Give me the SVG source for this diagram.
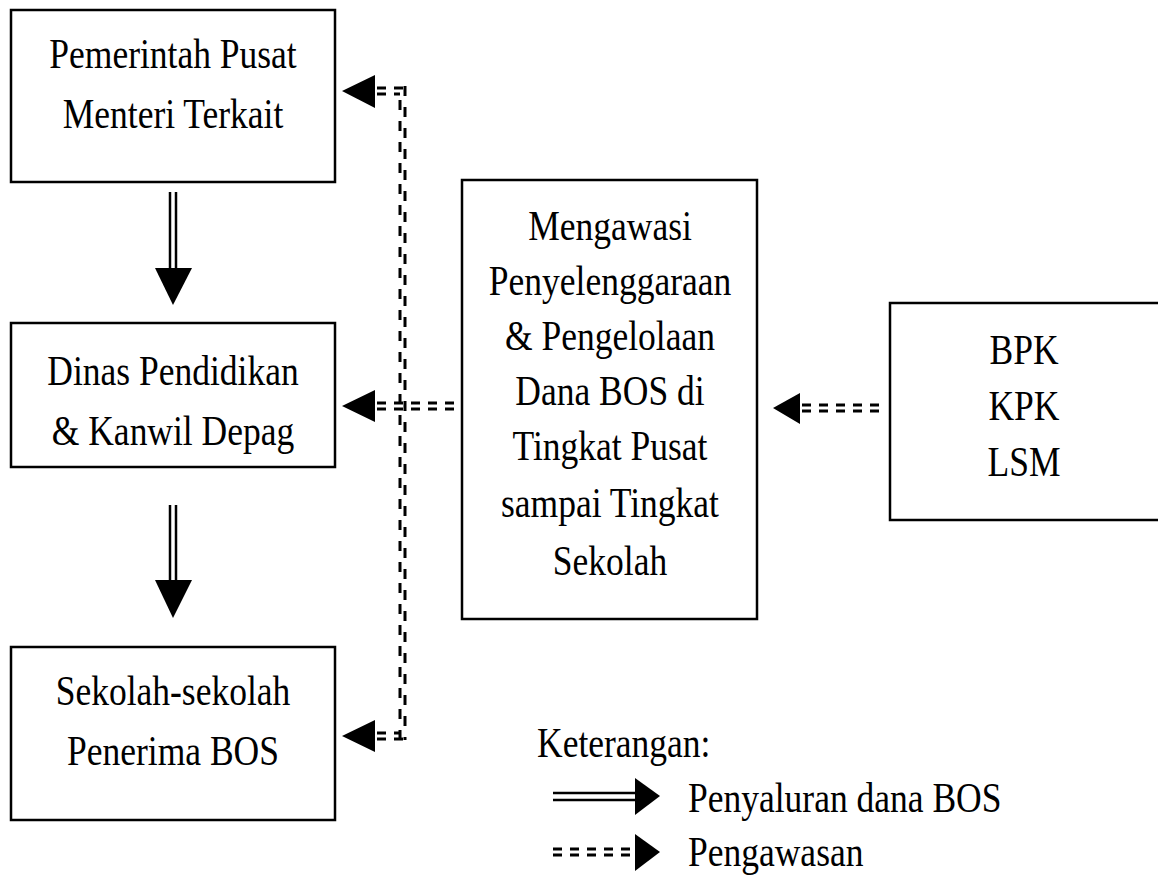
<svg xmlns="http://www.w3.org/2000/svg" width="1158" height="878" viewBox="0 0 1158 878">
<style>
.box{fill:#fff;stroke:#000;stroke-width:2.5}
.t{font-family:"Liberation Serif","Times New Roman",serif;font-size:35.5px;fill:#000}
.c{text-anchor:middle}
.dl{stroke:#000;stroke-width:2.5;fill:none}
.dd{stroke:#000;stroke-width:3;fill:none;stroke-dasharray:9 8}
.dv{stroke:#000;stroke-width:3;fill:none;stroke-dasharray:10 11}
.hd{fill:#000}
</style>
<rect width="1158" height="878" fill="#fff"/>
<g id="n-pusat">
<rect class="box" x="11" y="10" width="324" height="172"/>
<text class="t c" transform="translate(173,68) scale(1,1.16)">Pemerintah Pusat</text>
<text class="t c" transform="translate(173,128) scale(1,1.16)">Menteri Terkait</text>
</g>
<g id="n-dinas">
<rect class="box" x="11" y="323" width="324" height="144"/>
<text class="t c" transform="translate(173,385) scale(1,1.16)">Dinas Pendidikan</text>
<text class="t c" transform="translate(173,445) scale(1,1.16)">&amp; Kanwil Depag</text>
</g>
<g id="n-sekolah">
<rect class="box" x="11" y="647" width="324" height="173"/>
<text class="t c" transform="translate(173,705) scale(1,1.16)">Sekolah-sekolah</text>
<text class="t c" transform="translate(173,765) scale(1,1.16)">Penerima BOS</text>
</g>
<g id="n-mengawasi">
<rect class="box" x="462" y="180" width="295" height="439"/>
<text class="t c" transform="translate(610,240) scale(1,1.16)">Mengawasi</text>
<text class="t c" transform="translate(610,295) scale(1,1.16)">Penyelenggaraan</text>
<text class="t c" transform="translate(610,350) scale(1,1.16)">&amp; Pengelolaan</text>
<text class="t c" transform="translate(610,405) scale(1,1.16)">Dana BOS di</text>
<text class="t c" transform="translate(610,460) scale(1,1.16)">Tingkat Pusat</text>
<text class="t c" transform="translate(610,517) scale(1,1.16)">sampai Tingkat</text>
<text class="t c" transform="translate(610,575) scale(1,1.16)">Sekolah</text>
</g>
<g id="n-bpk">
<rect class="box" x="890" y="303" width="280" height="217"/>
<text class="t c" transform="translate(1024,364) scale(1,1.16)">BPK</text>
<text class="t c" transform="translate(1024,420) scale(1,1.16)">KPK</text>
<text class="t c" transform="translate(1024,476) scale(1,1.16)">LSM</text>
</g>
<g id="connectors">
<line class="dl" x1="170" y1="192" x2="170" y2="272"/>
<line class="dl" x1="176" y1="192" x2="176" y2="272"/>
<polygon class="hd" points="155,268 192,268 173,305"/>
<line class="dl" x1="170" y1="505" x2="170" y2="584"/>
<line class="dl" x1="176" y1="505" x2="176" y2="584"/>
<polygon class="hd" points="155,580 192,580 173,618"/>
<line class="dv" x1="400" y1="100" x2="400" y2="738"/>
<line class="dv" x1="405" y1="86" x2="405" y2="740"/>
<line class="dd" x1="377" y1="88" x2="405" y2="88"/>
<line class="dd" x1="377" y1="94" x2="400" y2="94"/>
<polygon class="hd" points="342,91 375,75 375,108"/>
<line class="dd" x1="377" y1="403" x2="455" y2="403"/>
<line class="dd" x1="377" y1="409" x2="455" y2="409"/>
<polygon class="hd" points="342,406 375,390 375,422"/>
<line class="dd" x1="377" y1="733" x2="400" y2="733"/>
<line class="dd" x1="377" y1="739" x2="405" y2="739"/>
<polygon class="hd" points="342,736 375,720 375,752"/>
<line class="dd" x1="802" y1="405" x2="882" y2="405"/>
<line class="dd" x1="802" y1="411" x2="882" y2="411"/>
<polygon class="hd" points="773,408 800,393 800,424"/>
</g>
<g id="legend">
<text class="t" transform="translate(537,757) scale(1,1.16)">Keterangan:</text>
<line class="dl" x1="553" y1="793" x2="640" y2="793"/>
<line class="dl" x1="553" y1="800" x2="640" y2="800"/>
<polygon class="hd" points="635,778 660,796 635,815"/>
<text class="t" transform="translate(688,812) scale(1,1.16)">Penyaluran dana BOS</text>
<line class="dd" x1="553" y1="849" x2="640" y2="849"/>
<line class="dd" x1="553" y1="855" x2="640" y2="855"/>
<polygon class="hd" points="635,834 660,852 635,871"/>
<text class="t" transform="translate(688,866) scale(1,1.16)">Pengawasan</text>
</g>
</svg>
